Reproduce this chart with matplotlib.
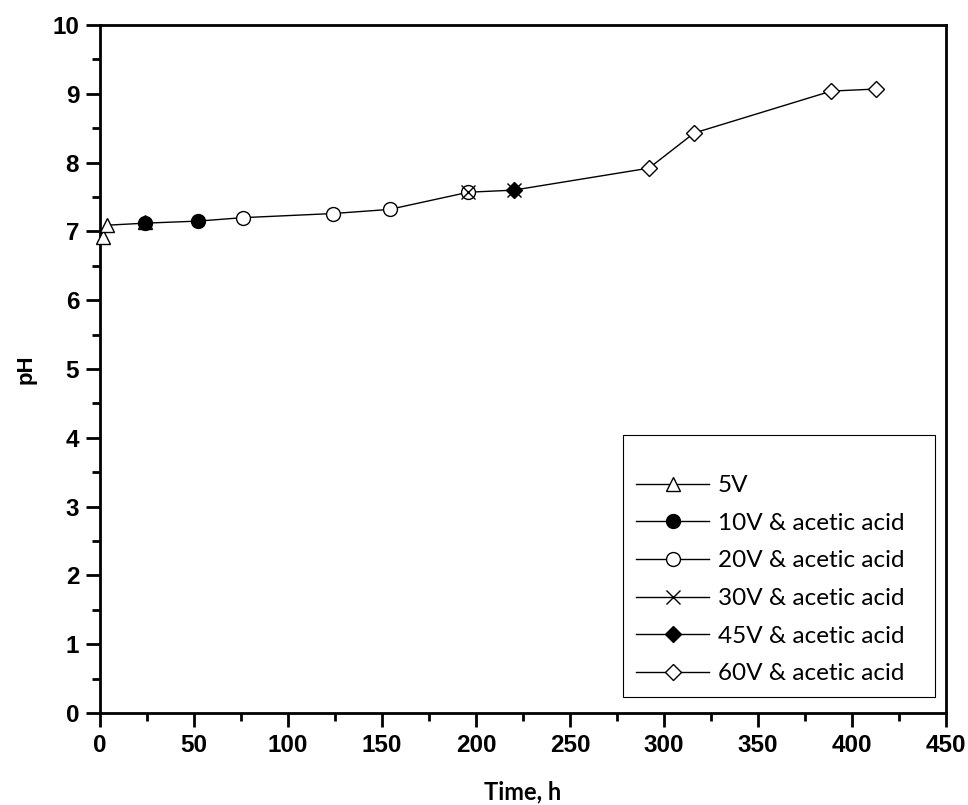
import matplotlib
matplotlib.use("Agg")
import matplotlib.pyplot as plt
from matplotlib.patches import Rectangle
from matplotlib.ticker import MultipleLocator

# Data
t_5v = [1.5, 3.5, 24]
ph_5v = [6.92, 7.09, 7.14]
t_10v = [24, 52]
ph_10v = [7.12, 7.15]
t_20v = [76, 124, 154, 196]
ph_20v = [7.20, 7.26, 7.32, 7.57]
t_30v = [196, 220]
ph_30v = [7.57, 7.60]
t_45v = [220]
ph_45v = [7.60]
t_60v = [292, 316, 389, 413]
ph_60v = [7.92, 8.43, 9.04, 9.07]

labels = ["5V", "10V & acetic acid", "20V & acetic acid",
          "30V & acetic acid", "45V & acetic acid", "60V & acetic acid"]

fig = plt.figure(figsize=(9.68, 8.05), dpi=100)
ax = fig.add_axes([0.1033, 0.1143, 0.874, 0.8546])

# connecting line through all points in time order
all_t = t_5v[:2] + t_10v + t_20v + t_30v[1:] + t_60v
all_ph = ph_5v[:2] + ph_10v + ph_20v + ph_30v[1:] + ph_60v
ax.plot(all_t, all_ph, color="black", lw=1.0, zorder=2)

styles = [
    (t_5v, ph_5v, dict(marker="^", mfc="white", ms=10)),
    (t_10v, ph_10v, dict(marker="o", mfc="black", ms=10)),
    (t_20v, ph_20v, dict(marker="o", mfc="white", ms=10)),
    (t_30v, ph_30v, dict(marker="x", mfc="none", ms=10)),
    (t_45v, ph_45v, dict(marker="D", mfc="black", ms=8.5)),
    (t_60v, ph_60v, dict(marker="D", mfc="white", ms=8.5)),
]
handles = []
for (tx, py, st), lab in zip(styles, labels):
    ax.plot(tx, py, linestyle="none", mec="black", mew=1.0, zorder=3,
            clip_on=False, **st)
    h, = ax.plot([], [], color="black", lw=1.0, mec="black", mew=1.0, **st,
                 label=lab)
    handles.append(h)

ax.set_xlim(0, 450)
ax.set_ylim(0, 10)
ax.xaxis.set_major_locator(MultipleLocator(50))
ax.xaxis.set_minor_locator(MultipleLocator(25))
ax.yaxis.set_major_locator(MultipleLocator(1))
ax.yaxis.set_minor_locator(MultipleLocator(0.5))

for s in ax.spines.values():
    s.set_linewidth(2.0)
ax.tick_params(which="major", direction="out", length=10, width=2.0,
               pad=5, top=False, right=False, labelsize=17.5,
               labelfontfamily="Liberation Sans")
ax.tick_params(which="minor", direction="out", length=5.5, width=2.0,
               top=False, right=False)
for lab in ax.get_xticklabels() + ax.get_yticklabels():
    lab.set_fontweight("bold")

ax.set_xlabel("Time, h", fontfamily="Lato", fontweight="bold", fontsize=17,
              labelpad=17)
ax.set_ylabel("pH", fontfamily="Liberation Sans", fontweight="bold",
              fontsize=16, labelpad=11)

# legend frame
ax.add_patch(Rectangle((0.618, 0.023), 0.369, 0.381, transform=ax.transAxes,
                       fill=True, facecolor="white", edgecolor="black",
                       lw=0.8, zorder=4))
leg = ax.legend(handles=handles, loc="lower left",
                bbox_to_anchor=(0.634, 0.042), frameon=False,
                prop={"family": "Lato", "size": 17.5}, handlelength=3.0,
                handletextpad=0.35, labelspacing=0.68, borderpad=0.0,
                borderaxespad=0.0)
leg.set_zorder(5)

fig.savefig("out.png", dpi=100)
